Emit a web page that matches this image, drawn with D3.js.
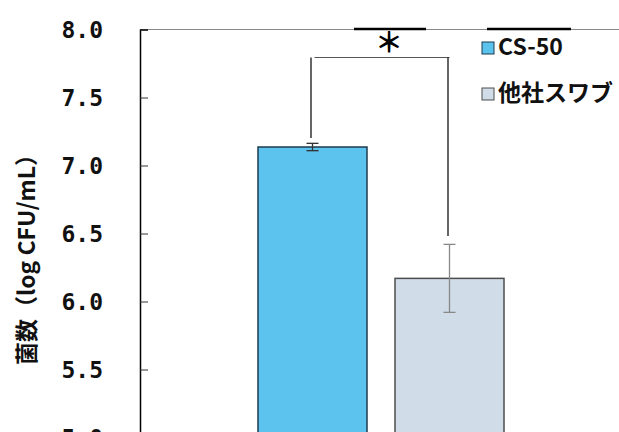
<!doctype html>
<html>
<head>
  <meta charset="utf-8">
  <style>
      body { margin:0; background:#fff; }
      svg { display:block; }
      .tick text { font-family:"DejaVu Sans Mono", monospace; font-weight:bold; font-size:23px; fill:#111; }
      .ylab { font-family:"Noto Sans CJK JP", sans-serif; font-weight:bold; font-size:23px; fill:#111; }
      .leg { font-family:"Noto Sans CJK JP", sans-serif; font-weight:bold; font-size:23px; fill:#111; }
  </style>
  <script src="https://d3js.org/d3.v7.min.js"></script>
</head>
<body>
  <script>
      // data
      var categories = ["CS-50", "他社スワブ"];
      var means = [7.136, 6.17];
      var errors = [0.027, 0.25];
      var yTicks = [5.0, 5.5, 6.0, 6.5, 7.0, 7.5, 8.0];
      var fills = ["#5bc3ee", "#d0dce8"];
      var strokes = ["#1f3b4d", "#4d4d4d"];
      var errColors = ["#333", "#888"];

      var W = 619, H = 432;
      var axisX = 140;

      var svg = d3.select("body").append("svg")
         .attr("width", W)
         .attr("height", H);

      var y = d3.scaleLinear().domain([5, 8]).range([437.5, 29.5]);
      var x = d3.scaleBand().domain(categories)
         .range([244, 518])
         .paddingInner(0.2044)
         .paddingOuter(0.1022);

      // top frame line
      svg.append("line")
         .attr("x1", axisX).attr("x2", W)
         .attr("y1", y(8)).attr("y2", y(8))
         .attr("stroke", "#888").attr("stroke-width", 1.2);
      // dark segments sitting on the top line
      [[354, 426], [487, 571]].forEach(function(s) {
         svg.append("line")
            .attr("x1", s[0]).attr("x2", s[1])
            .attr("y1", y(8) - 0.5).attr("y2", y(8) - 0.5)
            .attr("stroke", "#000").attr("stroke-width", 2.5);
      });

      // y axis, ticks pointing inward
      var yAxis = d3.axisRight(y).tickValues(yTicks).tickSize(8).tickFormat(d3.format(".1f"));
      var ag = svg.append("g").attr("transform", "translate(" + axisX + ",0)").call(yAxis);
      ag.select(".domain").attr("stroke", "#000").attr("stroke-width", 1.5);
      ag.selectAll(".tick line").attr("stroke", "#333");
      ag.selectAll(".tick text")
         .attr("x", -37).attr("dy", "0.36em")
         .attr("text-anchor", "end");

      svg.append("text")
         .attr("class", "ylab")
         .attr("transform", "translate(35,254) rotate(-90)")
         .attr("text-anchor", "middle")
         .text("菌数（log CFU/mL）");

      // bars
      svg.selectAll("rect.bar")
         .data(categories)
         .enter()
         .append("rect")
         .attr("class", "bar")
         .attr("x", function(d) { return x(d); })
         .attr("width", x.bandwidth())
         .attr("y", function(d, i) { return y(means[i]); })
         .attr("height", function(d, i) { return y(5) - y(means[i]); })
         .attr("fill", function(d, i) { return fills[i]; })
         .attr("stroke", function(d, i) { return strokes[i]; })
         .attr("stroke-width", 1.5);

      // error bars
      categories.forEach(function(c, i) {
         var cx = x(c) + x.bandwidth() / 2;
         var g = svg.append("g").attr("stroke", errColors[i]).attr("stroke-width", 1.3);
         g.append("line").attr("x1", cx).attr("x2", cx)
            .attr("y1", y(means[i] + errors[i])).attr("y2", y(means[i] - errors[i]));
         [means[i] + errors[i], means[i] - errors[i]].forEach(function(v) {
            g.append("line").attr("x1", cx - 6).attr("x2", cx + 6)
               .attr("y1", y(v)).attr("y2", y(v));
         });
      });

      // significance bracket
      var c1 = x(categories[0]) + x.bandwidth() / 2;
      var c2 = x(categories[1]) + x.bandwidth() / 2;
      var by = 57.5;
      svg.append("line").attr("x1", c1 + 2).attr("x2", c2)
         .attr("y1", by).attr("y2", by).attr("stroke", "#555").attr("stroke-width", 1.2);
      svg.append("line").attr("x1", c1 - 1.5).attr("x2", c1 - 1.5)
         .attr("y1", by).attr("y2", 138).attr("stroke", "#000").attr("stroke-width", 1.2);
      svg.append("line").attr("x1", c2 - 1.5).attr("x2", c2 - 1.5)
         .attr("y1", by).attr("y2", 236).attr("stroke", "#000").attr("stroke-width", 1.2);
      svg.append("text")
         .attr("x", (c1 + c2) / 2 + 8).attr("y", 43)
         .attr("dy", "0.35em")
         .attr("text-anchor", "middle")
         .attr("font-family", "Noto Sans CJK JP, sans-serif")
         .attr("font-weight", "bold")
         .attr("font-size", 28)
         .text("＊");

      // legend
      var leg = svg.append("g").selectAll("g")
         .data(categories)
         .enter()
         .append("g")
         .attr("transform", function(d, i) { return "translate(482," + (42 + i * 46) + ")"; });
      leg.append("rect")
         .attr("width", 12).attr("height", 12)
         .attr("fill", function(d, i) { return fills[i]; })
         .attr("stroke", function(d, i) { return strokes[i]; })
         .attr("stroke-width", 1);
      leg.append("text")
         .attr("class", "leg")
         .attr("x", 16).attr("y", 5)
         .attr("dy", "0.36em")
         .text(function(d) { return d; });
  </script>
</body>
</html>
